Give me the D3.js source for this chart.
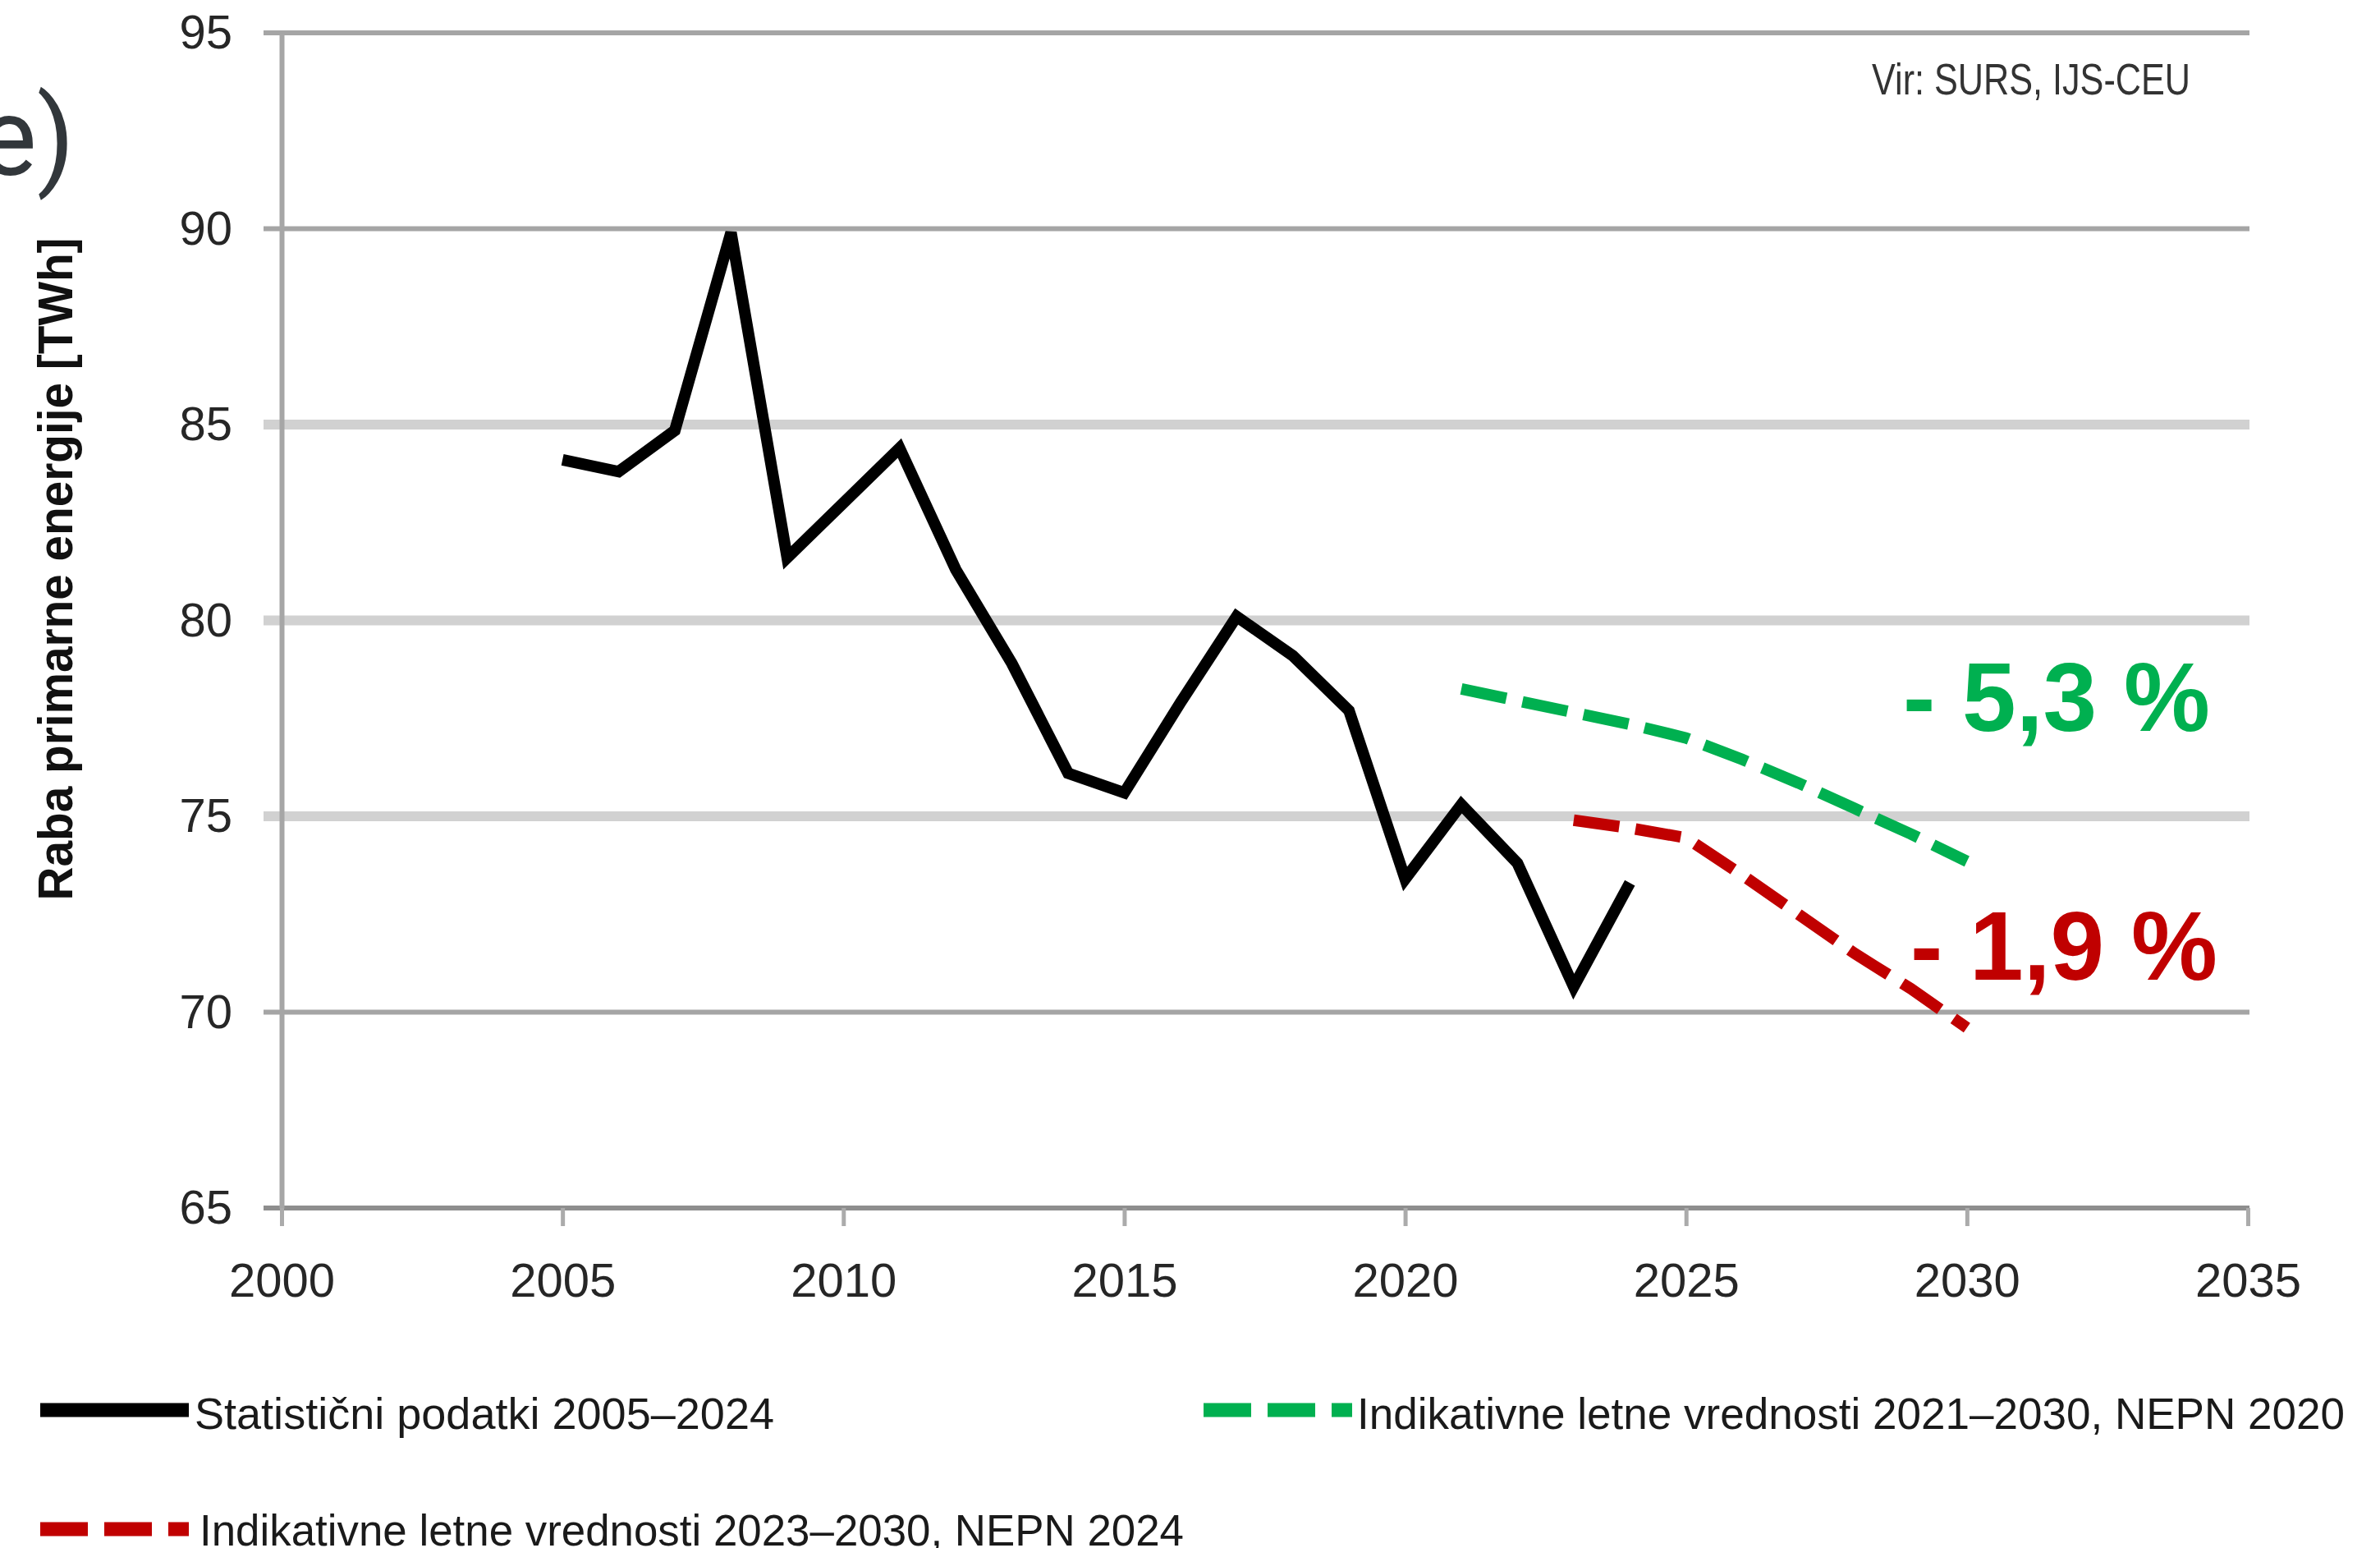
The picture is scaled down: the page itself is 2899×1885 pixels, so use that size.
<!DOCTYPE html>
<html>
<head>
<meta charset="utf-8">
<script src="https://cdn.jsdelivr.net/npm/d3@7"></script>
<style>
  body { margin: 0; background: #fff; }
  svg { display: block; font-family: "Liberation Sans", Arial, sans-serif; }
</style>
</head>
<body>
<svg id="chart"></svg>
<script>
//======= start data =======//
let statYears = [2005, 2006, 2007, 2008, 2009, 2010, 2011, 2012, 2013, 2014,
  2015, 2016, 2017, 2018, 2019, 2020, 2021, 2022, 2023, 2024];
let statValues = [84.1, 83.8, 84.85, 89.9, 81.6, 83.0, 84.4, 81.3, 78.9, 76.1,
  75.6, 77.9, 80.1, 79.1, 77.7, 73.4, 75.3, 73.8, 70.65, 73.3];

let nepn2020Years = [2021, 2022, 2023, 2024, 2025, 2026, 2027, 2028, 2029, 2030];
let nepn2020Values = [78.25, 77.95, 77.65, 77.35, 77.0, 76.45, 75.85, 75.2, 74.55, 73.85];

let nepn2024Years = [2023, 2024, 2025, 2026, 2027, 2028, 2029, 2030];
let nepn2024Values = [74.9, 74.7, 74.45, 73.5, 72.5, 71.5, 70.6, 69.6];

let xTicks = [2000, 2005, 2010, 2015, 2020, 2025, 2030, 2035];
let yTicks = [65, 70, 75, 80, 85, 90, 95];

let legendLabels = [
  'Statistični podatki 2005–2024',
  'Indikativne letne vrednosti 2021–2030, NEPN 2020',
  'Indikativne letne vrednosti 2023–2030, NEPN 2024'
];
let changeLabels = ['- 5,3 %', '- 1,9 %'];
let yTitle = 'Raba primarne energije [TWh]';
let sourceText = 'Vir: SURS, IJS-CEU';
//======= end data =======//

let width = 2899;
let height = 1885;

let svg = d3.select('#chart')
  .attr('width', width)
  .attr('height', height);

let x = d3.scaleLinear().domain([2000, 2035]).range([343, 2738]);
let y = d3.scaleLinear().domain([65, 95]).range([1471, 40]);

// light gridlines in the middle band, darker ones elsewhere
let lightGrid = [75, 80, 85];

//======= start grid & axes =======//
svg.append('g')
  .selectAll('line')
  .data(yTicks)
  .enter()
  .append('line')
  .attr('x1', 321)
  .attr('x2', 2740)
  .attr('y1', d => y(d))
  .attr('y2', d => y(d))
  .attr('stroke', d => d === 65 ? '#8e8e8e' : (lightGrid.includes(d) ? '#d1d1d1' : '#a5a5a5'))
  .attr('stroke-width', d => lightGrid.includes(d) ? 12 : 6);

let yAxis = svg.append('g')
  .attr('transform', 'translate(343,0)')
  .call(d3.axisLeft(y).tickValues(yTicks).tickSize(0).tickSizeOuter(0).tickPadding(60));
yAxis.select('.domain')
  .attr('stroke', '#a6a6a6')
  .attr('stroke-width', 6);
yAxis.selectAll('text')
  .attr('font-size', 58)
  .attr('font-family', '"Liberation Sans", Arial, sans-serif')
  .attr('fill', '#262626');

let xAxis = svg.append('g')
  .attr('transform', 'translate(0,' + y(65) + ')')
  .call(d3.axisBottom(x).tickValues(xTicks).tickSize(22).tickPadding(45).tickFormat(d3.format('d')));
xAxis.select('.domain').remove();
xAxis.selectAll('line')
  .attr('stroke', '#ababab')
  .attr('stroke-width', 5);
xAxis.selectAll('text')
  .attr('font-size', 58)
  .attr('font-family', '"Liberation Sans", Arial, sans-serif')
  .attr('fill', '#262626');
//======= end grid & axes =======//

//======= start lines =======//
let line = d3.line()
  .x(d => x(d.year))
  .y(d => y(d.value));

let series = [
  { years: statYears, values: statValues, color: '#000000', dash: null },
  { years: nepn2020Years, values: nepn2020Values, color: '#00b050', dash: '56,20' },
  { years: nepn2024Years, values: nepn2024Values, color: '#c00000', dash: '56,20' }
];

series.forEach(function (s) {
  let pts = s.years.map((yr, i) => ({ year: yr, value: s.values[i] }));
  svg.append('path')
    .datum(pts)
    .attr('fill', 'none')
    .attr('stroke', s.color)
    .attr('stroke-width', 14)
    .attr('stroke-linejoin', 'miter')
    .attr('stroke-linecap', 'butt')
    .attr('stroke-dasharray', s.dash)
    .attr('d', line);
});
//======= end lines =======//

//======= start texts =======//
svg.append('text')
  .attr('x', 91)
  .attr('y', 213)
  .attr('text-anchor', 'end')
  .attr('font-family', 'Roboto, sans-serif')
  .attr('font-size', 133)
  .attr('fill', '#32373b')
  .text('e)');

svg.append('text')
  .attr('transform', 'translate(88,693) rotate(-90)')
  .attr('text-anchor', 'middle')
  .attr('font-size', 60)
  .attr('font-weight', 'bold')
  .attr('fill', '#111')
  .attr('textLength', 807)
  .attr('lengthAdjust', 'spacingAndGlyphs')
  .text(yTitle);

svg.append('text')
  .attr('x', 2280)
  .attr('y', 115)
  .attr('font-size', 54)
  .attr('fill', '#333')
  .attr('textLength', 388)
  .attr('lengthAdjust', 'spacingAndGlyphs')
  .text(sourceText);

svg.append('text')
  .attr('x', 2318)
  .attr('y', 890)
  .attr('font-size', 118)
  .attr('font-weight', 'bold')
  .attr('fill', '#00b050')
  .text(changeLabels[0]);

svg.append('text')
  .attr('x', 2327)
  .attr('y', 1193)
  .attr('font-size', 118)
  .attr('font-weight', 'bold')
  .attr('fill', '#c00000')
  .text(changeLabels[1]);
//======= end texts =======//

//======= start legend =======//
let legendItems = [
  { x: 49, y: 1717, color: '#000000', dash: null, tx: 237, ty: 1740, len: 706 },
  { x: 1466, y: 1717, color: '#00b050', dash: '58,20', tx: 1653, ty: 1740, len: 1203 },
  { x: 49, y: 1862, color: '#c00000', dash: '58,20', tx: 243, ty: 1882, len: 1199 }
];

let legend = svg.selectAll('.legend')
  .data(legendItems)
  .enter()
  .append('g')
  .attr('class', 'legend');

legend.append('line')
  .attr('x1', d => d.x)
  .attr('x2', d => d.x + 181)
  .attr('y1', d => d.y)
  .attr('y2', d => d.y)
  .attr('stroke', d => d.color)
  .attr('stroke-width', 17)
  .attr('stroke-dasharray', d => d.dash);

legend.append('text')
  .attr('x', d => d.tx)
  .attr('y', d => d.ty)
  .attr('font-size', 53)
  .attr('fill', '#1a1a1a')
  .attr('textLength', d => d.len)
  .attr('lengthAdjust', 'spacingAndGlyphs')
  .text((d, i) => legendLabels[i]);
//======= end legend =======//
</script>
</body>
</html>
